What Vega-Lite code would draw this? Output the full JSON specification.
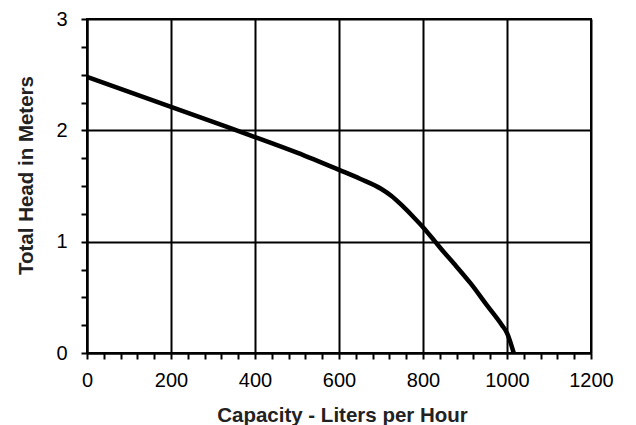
{
  "$schema": "https://vega.github.io/schema/vega-lite/v6.json",
  "width": 504,
  "height": 334,
  "autosize": {"type": "none"},
  "padding": {"left": 87, "top": 19, "right": 45, "bottom": 72},
  "background": "white",
  "config": {
    "view": {"stroke": "black", "strokeWidth": 2},
    "font": "Liberation Sans"
  },
  "data": {
    "values": [
      {"capacity": 0, "head": 2.48},
      {"capacity": 100, "head": 2.345},
      {"capacity": 200, "head": 2.21},
      {"capacity": 300, "head": 2.075},
      {"capacity": 400, "head": 1.94},
      {"capacity": 500, "head": 1.8},
      {"capacity": 600, "head": 1.645},
      {"capacity": 650, "head": 1.565},
      {"capacity": 700, "head": 1.475},
      {"capacity": 725, "head": 1.41},
      {"capacity": 750, "head": 1.325},
      {"capacity": 775, "head": 1.23},
      {"capacity": 800, "head": 1.13},
      {"capacity": 829, "head": 1.0},
      {"capacity": 850, "head": 0.905},
      {"capacity": 873, "head": 0.806},
      {"capacity": 913, "head": 0.627},
      {"capacity": 952, "head": 0.43},
      {"capacity": 988, "head": 0.25},
      {"capacity": 1000, "head": 0.18},
      {"capacity": 1016, "head": 0}
    ]
  },
  "mark": {"type": "line", "color": "black", "strokeWidth": 4.5, "interpolate": "monotone", "clip": true},
  "encoding": {
    "x": {
      "field": "capacity",
      "type": "quantitative",
      "scale": {"domain": [0, 1200], "nice": false, "zero": false},
      "axis": {
        "title": "Capacity - Liters per Hour",
        "values": [0,40,80,120,160,200,240,280,320,360,400,440,480,520,560,600,640,680,720,760,800,840,880,920,960,1000,1040,1080,1120,1160,1200],
        "format": "d",
        "labelExpr": "datum.value % 200 === 0 ? datum.label : ''",
        "grid": true,
        "gridColor": "black",
        "gridWidth": 2,
        "gridOpacity": {"condition": {"test": "datum.value % 200 === 0", "value": 1}, "value": 0},
        "domainColor": "black",
        "domainWidth": 2,
        "tickColor": "black",
        "tickWidth": 2,
        "tickSize": 6,
        "labelFont": "Liberation Sans",
        "labelFontSize": 20,
        "labelColor": "black",
        "labelPadding": 11,
        "labelFlush": false,
        "labelOverlap": false,
        "titleFont": "Liberation Sans",
        "titleFontSize": 20.5,
        "titleFontWeight": "bold",
        "titleColor": "#222222",
        "titleBaseline": "alphabetic",
        "titleY": 68,
        "titleX": 255
      }
    },
    "y": {
      "field": "head",
      "type": "quantitative",
      "scale": {"domain": [0, 3], "nice": false},
      "axis": {
        "title": "Total Head in Meters",
        "values": [0,0.25,0.5,0.75,1,1.25,1.5,1.75,2,2.25,2.5,2.75,3],
        "labelExpr": "datum.value % 1 === 0 ? format(datum.value, 'd') : ''",
        "grid": true,
        "gridColor": "black",
        "gridWidth": 2,
        "gridOpacity": {"condition": {"test": "datum.value % 1 === 0", "value": 1}, "value": 0},
        "domainColor": "black",
        "domainWidth": 2,
        "tickColor": "black",
        "tickWidth": 2,
        "tickSize": 6,
        "labelFont": "Liberation Sans",
        "labelFontSize": 20,
        "labelColor": "black",
        "labelPadding": 14,
        "labelFlush": false,
        "labelOverlap": false,
        "titleFont": "Liberation Sans",
        "titleFontSize": 20.5,
        "titleFontWeight": "bold",
        "titleColor": "#222222",
        "titleAngle": 270,
        "titleBaseline": "alphabetic",
        "titleAlign": "center",
        "titleX": -55,
        "titleY": 156
      }
    }
  }
}
